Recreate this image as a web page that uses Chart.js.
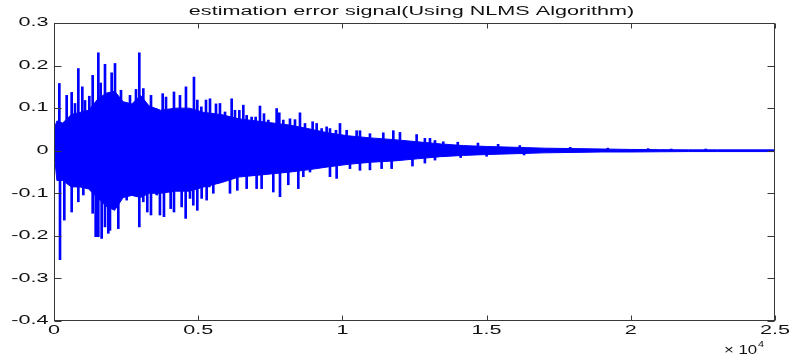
<!DOCTYPE html>
<html>
<head>
<meta charset="utf-8">
<title>estimation error signal</title>
<script src="https://cdn.jsdelivr.net/npm/chart.js@4.4.1/dist/chart.umd.min.js"></script>
<style>
  body { margin: 0; background: #fff; }
  #grafico-error { display: block; }
</style>
</head>
<body>
<canvas id="grafico-error" width="793" height="360"></canvas>
<script>
// Valores (eje x = numero de muestra)
// Envolvente del cuerpo denso de la senal
const cuerpoX = [0, 100, 300, 600, 900, 1200, 1500, 1800, 2100, 2400, 2700, 3000, 3300, 3700, 4200, 4700, 5200, 5800, 6400, 7000, 7600, 8200, 8800, 9500, 10200, 11000, 11800, 12600, 13400, 14200, 15000, 16000, 17000, 18000, 19000, 20000, 21000, 22000, 23000, 25000];
const cuerpoSup = [0.05, 0.07, 0.065, 0.085, 0.09, 0.095, 0.12, 0.135, 0.14, 0.115, 0.11, 0.13, 0.105, 0.095, 0.1, 0.1, 0.09, 0.085, 0.075, 0.07, 0.065, 0.06, 0.052, 0.042, 0.035, 0.03, 0.026, 0.021, 0.016, 0.012, 0.01, 0.008, 0.006, 0.005, 0.004, 0.003, 0.0025, 0.002, 0.002, 0.002];
const cuerpoInf = [0, -0.07, -0.07, -0.085, -0.085, -0.09, -0.11, -0.13, -0.14, -0.11, -0.105, -0.11, -0.1, -0.1, -0.095, -0.095, -0.085, -0.075, -0.062, -0.058, -0.054, -0.05, -0.045, -0.038, -0.032, -0.027, -0.024, -0.019, -0.014, -0.011, -0.009, -0.007, -0.005, -0.004, -0.003, -0.003, -0.0025, -0.002, -0.002, -0.002];

// Picos que sobresalen del cuerpo
const picosSupX = [185, 439, 613, 728, 844, 982, 1075, 1225, 1341, 1537, 1618, 1768, 1999, 2115, 2323, 2635, 2843, 2958, 3097, 3363, 3536, 3768, 3884, 4160, 4368, 4576, 4853, 4969, 5109, 5270, 5409, 5617, 5755, 5929, 6160, 6275, 6426, 6564, 6680, 6853, 6992, 7142, 7281, 7431, 7720, 7812, 7951, 8182, 8356, 8529, 8703, 8968, 9107, 9280, 9453, 9569, 9777, 9916, 10147, 10493, 10609, 10955, 11418, 11765, 11996, 12574, 12860, 13036, 13210, 13498, 14000, 14700, 15400, 16150, 17900, 19200, 20600, 21400, 22600];
const picosSupY = [0.158, 0.13, 0.137, 0.111, 0.193, 0.15, 0.118, 0.128, 0.177, 0.23, 0.159, 0.203, 0.183, 0.205, 0.142, 0.13, 0.144, 0.23, 0.146, 0.13, 0.099, 0.134, 0.126, 0.138, 0.13, 0.15, 0.173, 0.119, 0.103, 0.119, 0.122, 0.11, 0.111, 0.091, 0.122, 0.095, 0.095, 0.107, 0.083, 0.079, 0.079, 0.105, 0.087, 0.072, 0.099, 0.089, 0.072, 0.075, 0.073, 0.089, 0.064, 0.068, 0.064, 0.052, 0.056, 0.052, 0.048, 0.064, 0.048, 0.047, 0.047, 0.04, 0.042, 0.047, 0.043, 0.038, 0.029, 0.029, 0.024, 0.021, 0.02, 0.018, 0.015, 0.012, 0.008, 0.006, 0.005, 0.004, 0.004];
const picosInfX = [208, 358, 613, 844, 1017, 1341, 1445, 1537, 1652, 1768, 1883, 1941, 2230, 2520, 2958, 3097, 3235, 3363, 3560, 3673, 3813, 4045, 4160, 4426, 4565, 4715, 4830, 4969, 5120, 5293, 5386, 5524, 6102, 6356, 6680, 7026, 7199, 7604, 7836, 8124, 8471, 8645, 8876, 9569, 9800, 10262, 10609, 10956, 11360, 11707, 12430, 12860, 13210, 14100, 15000, 16300];
const picosInfY = [-0.256, -0.163, -0.144, -0.12, -0.104, -0.147, -0.202, -0.202, -0.206, -0.179, -0.194, -0.187, -0.183, -0.116, -0.179, -0.12, -0.144, -0.151, -0.104, -0.151, -0.155, -0.136, -0.144, -0.132, -0.159, -0.112, -0.128, -0.14, -0.112, -0.116, -0.085, -0.1, -0.1, -0.093, -0.089, -0.089, -0.089, -0.097, -0.108, -0.08, -0.089, -0.061, -0.05, -0.061, -0.065, -0.042, -0.046, -0.045, -0.042, -0.042, -0.036, -0.029, -0.022, -0.016, -0.013, -0.01];

// Marcas de los ejes
const ticksX = [0, 5000, 10000, 15000, 20000, 25000];
const etiquetasX = ['0', '0.5', '1', '1.5', '2', '2.5'];
const ticksY = [0.3, 0.2, 0.1, 0, -0.1, -0.2, -0.3, -0.4];
const etiquetasY = ['0.3', '0.2', '0.1', '0', '-0.1', '-0.2', '-0.3', '-0.4'];
const titulo = 'estimation error signal(Using NLMS Algorithm)';

const AZUL = '#0000ff';
const ESTIRAR = 1.8; // la figura original esta estirada en horizontal
let chartInstance;

function puntos(xs, ys) {
    return xs.map((x, i) => ({ x: x, y: ys[i] }));
}

// Texto estirado horizontalmente como en la imagen
function textoEstirado(ctx, texto, x, y, alinear, base, factor) {
    ctx.save();
    ctx.translate(x, y);
    ctx.scale(factor || ESTIRAR, 1);
    ctx.textAlign = alinear;
    ctx.textBaseline = base;
    ctx.fillText(texto, 0, 0);
    ctx.restore();
}

// Marco tipo MATLAB con marcas hacia dentro, etiquetas y titulo
const ejesMatlab = {
    id: 'ejesMatlab',
    afterDraw(chart) {
        const ctx = chart.ctx;
        const area = chart.chartArea;
        const sx = chart.scales.x;
        const sy = chart.scales.y;
        const izq = Math.round(area.left) + 0.5;
        const der = Math.round(area.right) - 0.5;
        const arr = Math.round(area.top) + 0.5;
        const abj = Math.round(area.bottom) - 0.5;

        ctx.save();
        ctx.strokeStyle = '#383838';
        ctx.lineWidth = 1;
        ctx.strokeRect(izq, arr, der - izq, abj - arr);

        ctx.beginPath();
        ticksX.forEach(v => {
            const px = Math.round(sx.getPixelForValue(v)) + 0.5;
            ctx.moveTo(px, abj); ctx.lineTo(px, abj - 5);
            ctx.moveTo(px, arr); ctx.lineTo(px, arr + 5);
        });
        ticksY.forEach(v => {
            const py = Math.round(sy.getPixelForValue(v)) + 0.5;
            ctx.moveTo(izq, py); ctx.lineTo(izq + 7, py);
            ctx.moveTo(der, py); ctx.lineTo(der - 7, py);
        });
        ctx.stroke();

        ctx.fillStyle = '#111';
        ctx.font = '12px "Liberation Sans", Arial, sans-serif';
        ticksX.forEach((v, i) => {
            textoEstirado(ctx, etiquetasX[i], sx.getPixelForValue(v), abj + 13, 'center', 'alphabetic');
        });
        ticksY.forEach((v, i) => {
            textoEstirado(ctx, etiquetasY[i], izq - 6, sy.getPixelForValue(v), 'right', 'middle');
        });

        textoEstirado(ctx, titulo, (area.left + area.right) / 2 - 3, 15, 'center', 'alphabetic');

        // factor de escala del eje x
        ctx.font = '12px "Liberation Sans", Arial, sans-serif';
        textoEstirado(ctx, '\u00d7 10', 724, 354, 'left', 'alphabetic', 1.4);
        ctx.font = '9px "Liberation Sans", Arial, sans-serif';
        textoEstirado(ctx, '4', 758, 347, 'left', 'alphabetic', 1.2);
        ctx.restore();
    }
};

document.addEventListener('DOMContentLoaded', () => {
    const ctx = document.getElementById('grafico-error').getContext('2d');

    chartInstance = new Chart(ctx, {
        type: 'line',
        data: {
            datasets: [
                {
                    label: 'cuerpo superior',
                    data: puntos(cuerpoX, cuerpoSup),
                    borderColor: AZUL,
                    backgroundColor: AZUL,
                    borderWidth: 1,
                    pointRadius: 0,
                    tension: 0,
                    fill: '+1'
                },
                {
                    label: 'cuerpo inferior',
                    data: puntos(cuerpoX, cuerpoInf),
                    borderColor: AZUL,
                    borderWidth: 1,
                    pointRadius: 0,
                    tension: 0,
                    fill: false
                },
                {
                    type: 'bar',
                    label: 'picos superiores',
                    data: puntos(picosSupX, picosSupY),
                    backgroundColor: AZUL,
                    barThickness: 2,
                    grouped: false
                },
                {
                    type: 'bar',
                    label: 'picos inferiores',
                    data: puntos(picosInfX, picosInfY),
                    backgroundColor: AZUL,
                    barThickness: 2,
                    grouped: false
                }
            ]
        },
        options: {
            responsive: false,
            animation: false,
            layout: { padding: { left: 54, right: 18, top: 23, bottom: 39 } },
            plugins: {
                legend: { display: false },
                tooltip: { enabled: false },
                title: { display: false }
            },
            scales: {
                x: {
                    type: 'linear',
                    min: 0,
                    max: 25000,
                    offset: false,
                    display: false,
                    grid: { offset: false }
                },
                y: {
                    type: 'linear',
                    min: -0.4,
                    max: 0.3,
                    display: false
                }
            }
        },
        plugins: [ejesMatlab]
    });
});
</script>
</body>
</html>
